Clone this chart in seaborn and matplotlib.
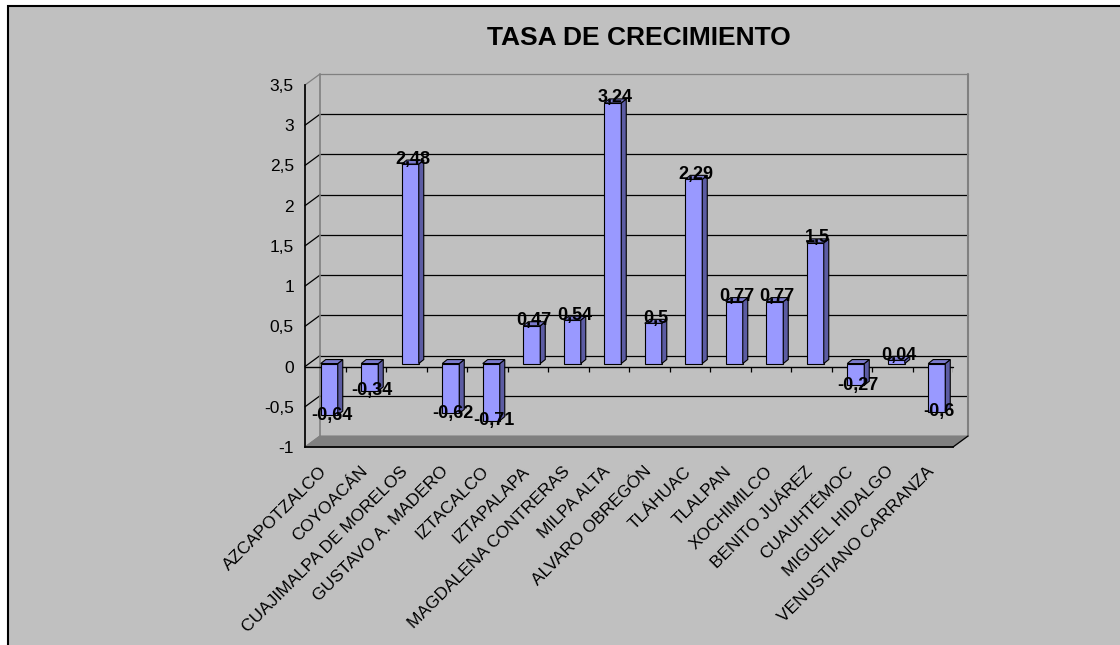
import numpy as np
import pandas as pd
import matplotlib
matplotlib.use("Agg")
import matplotlib.pyplot as plt
import matplotlib.transforms as mtransforms
from matplotlib.patches import Polygon, Rectangle
import seaborn as sns

categories = ["AZCAPOTZALCO", "COYOACÁN", "CUAJIMALPA DE MORELOS", "GUSTAVO A. MADERO",
              "IZTACALCO", "IZTAPALAPA", "MAGDALENA CONTRERAS", "MILPA ALTA",
              "ALVARO OBREGÓN", "TLÁHUAC", "TLALPAN", "XOCHIMILCO", "BENITO JUÁREZ",
              "CUAUHTÉMOC", "MIGUEL HIDALGO", "VENUSTIANO CARRANZA"]
values = [-0.64, -0.34, 2.48, -0.62, -0.71, 0.47, 0.54, 3.24, 0.5, 2.29,
          0.77, 0.77, 1.5, -0.27, 0.04, -0.6]
yticks = [-1, -0.5, 0, 0.5, 1, 1.5, 2, 2.5, 3, 3.5]
title = "TASA DE CRECIMIENTO"

sns.set_theme(style="white")
plt.rcParams["font.family"] = ["Liberation Sans", "DejaVu Sans"]
plt.rcParams["text.color"] = "black"
plt.rcParams["xtick.color"] = "black"
plt.rcParams["ytick.color"] = "black"
plt.rcParams["axes.labelcolor"] = "black"

W, H = 1120, 645
fig = plt.figure(figsize=(W / 100, H / 100), dpi=100)
fig.patch.set_facecolor("white")
fig.patches.append(Rectangle((8 / W, -0.1), 1.2, 1 - 6 / H + 0.1, transform=fig.transFigure,
                             facecolor="#C0C0C0", edgecolor="black", lw=1.5, zorder=-10))

ax_l, ax_r, ax_t, ax_b = 305, 953, 85, 447
ax = fig.add_axes([ax_l / W, 1 - ax_b / H, (ax_r - ax_l) / W, (ax_b - ax_t) / H])
ax.set_facecolor("none")
n = len(categories)
ymin, ymax = yticks[0], yticks[-1]
ax.set_xlim(-0.5, n - 0.5)
ax.set_ylim(ymin, ymax)

PX = n / (ax_r - ax_l)
PY = (ymax - ymin) / (ax_b - ax_t)
WX, WY = 15 * PX, 11 * PY          # wall depth
BFX, BFY = 4 * PX, 3 * PY          # bar front offset
BDX, BDY = 5 * PX, 4 * PY          # bar depth

df = pd.DataFrame({"cat": categories, "val": values})
sns.barplot(data=df, x="cat", y="val", ax=ax, color="#9999FF", saturation=1,
            edgecolor="black", linewidth=0.8, width=0.42, errorbar=None, zorder=4)

# walls / floor
x0, x1 = -0.5, n - 0.5
ax.add_patch(Polygon([(x0, ymin), (x1, ymin), (x1 + WX, ymin + WY), (x0 + WX, ymin + WY)],
                     closed=True, facecolor="#808080", edgecolor="#808080", lw=0.8,
                     clip_on=False, zorder=1))
for v in yticks:
    col = "black" if ymin < v < ymax else "#808080"
    ax.plot([x0, x0 + WX], [v, v + WY], color=col, lw=0.9, clip_on=False, zorder=1)
    if v > ymin:
        ax.plot([x0 + WX, x1 + WX], [v + WY, v + WY], color=col, lw=0.9,
                clip_on=False, zorder=1)
ax.plot([x0 + WX, x0 + WX], [ymin + WY, ymax + WY], color="#808080", lw=1.2, clip_on=False, zorder=1)
ax.plot([x1 + WX, x1 + WX], [ymin + WY, ymax + WY], color="#808080", lw=1.5, clip_on=False, zorder=1)
ax.plot([x1, x1 + WX], [ymin, ymin + WY], color="black", lw=0.9, clip_on=False, zorder=2)

# zero line with ticks
ax.plot([x0, x1], [0, 0], color="black", lw=1.0, zorder=2, clip_on=False)
bounds = np.arange(n + 1) - 0.5
ax.vlines(bounds[1:], -5 * PY, 0, color="black", lw=0.9, zorder=2)

# 3D bar faces + labels
for p, v in zip(ax.patches, values):
    p.set_x(p.get_x() + BFX)
    p.set_y(p.get_y() + BFY)
    bx, bw = p.get_x(), p.get_width()
    top = BFY + max(v, 0)
    bot = BFY + min(v, 0)
    ax.add_patch(Polygon([(bx + bw, bot), (bx + bw + BDX, bot + BDY), (bx + bw + BDX, top + BDY),
                          (bx + bw, top)], closed=True, facecolor="#5C5CA3",
                         edgecolor="black", lw=0.8, zorder=4))
    ax.add_patch(Polygon([(bx, top), (bx + bw, top), (bx + bw + BDX, top + BDY), (bx + BDX, top + BDY)],
                         closed=True, facecolor="#7A7ACC", edgecolor="black", lw=0.8, zorder=4))
    lx = bx + bw / 2 + BDX / 2
    ly = top + 5 * PY if v >= 0 else bot
    ax.text(lx, ly, str(v).replace(".", ","), ha="center", va="center",
            fontsize=13, fontweight="bold", color="black", zorder=6)

# axes styling
for s in ["top", "right"]:
    ax.spines[s].set_visible(False)
ax.spines["left"].set_color("black")
ax.spines["bottom"].set_color("black")
ax.spines["left"].set_zorder(5)
ax.spines["bottom"].set_zorder(5)
ax.set_yticks(yticks)
ax.set_yticklabels([str(t).replace(".", ",") for t in yticks], fontsize=12.5)
ax.tick_params(axis="y", direction="out", length=5, width=0.9, color="black", pad=3)
ax.set_xticks(np.arange(n))
ax.set_xticklabels(categories, rotation=45, ha="right", rotation_mode="anchor", fontsize=12.5)
ax.set_xticks(bounds, minor=True)
ax.tick_params(axis="x", which="major", length=0, pad=12)
ax.tick_params(axis="x", which="minor", direction="out", length=6, width=0.9, color="black")
shift = mtransforms.ScaledTranslation(-6 / 100, 0, fig.dpi_scale_trans)
for lab in ax.get_xticklabels():
    lab.set_transform(lab.get_transform() + shift)
ax.set_xlabel("")
ax.set_ylabel("")
ax.grid(False)

fig.text(639 / W, 1 - 38 / H, title, ha="center", va="center", fontsize=19, fontweight="bold")

fig.savefig("out.png", dpi=100)
